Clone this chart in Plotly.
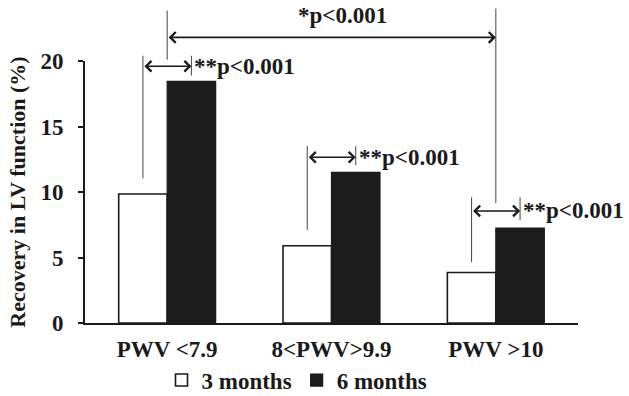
import plotly.graph_objects as go

categories = ["PWV <7.9", "8<PWV>9.9", "PWV >10"]
series_names = ["3 months", "6 months"]
three_months = [9.85, 5.9, 3.85]
six_months = [18.45, 11.5, 7.25]
y_ticks = [0, 5, 10, 15, 20]
p_labels = ["**p<0.001", "**p<0.001", "**p<0.001"]
overall_label = "*p<0.001"

Y_MAX = 20
FAMILY = "Liberation Serif, Times New Roman, serif"
INK = "#1a1a1a"
FONT = dict(family=FAMILY, size=23, color=INK, weight="bold")
TITLE_FONT = dict(family=FAMILY, size=22, color=INK, weight="bold")
BARGAP = 0.41
OFF = (1 - BARGAP) / 4  # offset of each bar centre from category centre

x = list(range(len(categories)))

fig = go.Figure()
fig.add_trace(go.Bar(x=x, y=three_months, name=series_names[0],
                     marker=dict(color="white", line=dict(color=INK, width=1.6))))
fig.add_trace(go.Bar(x=x, y=six_months, name=series_names[1],
                     marker=dict(color="#1c1c1c", line=dict(color=INK, width=1.2))))

def yp(v):
    return v / Y_MAX

shapes = []
annotations = []

def vline(xv, y0, y1, color="#444", width=1):
    shapes.append(dict(type="line", xref="x", yref="paper", x0=xv, x1=xv,
                       y0=yp(y0), y1=yp(y1), line=dict(color=color, width=width)))

def harrow(xa, xb, yv):
    annotations.append(dict(xref="x", yref="paper", axref="x", ayref="pixel",
                            x=xb, ax=xa, y=yp(yv), ay=0, text="", showarrow=True,
                            arrowside="end+start", arrowhead=4, startarrowhead=4,
                            arrowsize=1.3, startarrowsize=1.3, arrowwidth=1.6,
                            arrowcolor=INK, standoff=0, startstandoff=0))

# per-group brackets (white bar centre -> black bar centre)
group_levels = [(19.6, 11.05, 20.4, 18.9), (12.65, 7.1, 13.5, 12.05), (8.55, 4.65, 9.6, 7.85)]
for i, (ya, yl_bottom, ytop, yr_bottom) in enumerate(group_levels):
    xl = x[i] - OFF
    xr = x[i] + OFF
    vline(xl, yl_bottom, ytop)
    vline(xr, yr_bottom, ytop)
    harrow(xl, xr, ya)
    annotations.append(dict(xref="x", yref="paper", x=xr, y=yp(ya), xshift=1,
                            xanchor="left", yanchor="middle", text=p_labels[i],
                            showarrow=False, font=FONT))

# overall bracket: group 1 centre -> group 3 centre
vline(x[0], 20.1, 23.85)
vline(x[2], 9.15, 24.0)
harrow(x[0], x[2], 21.8)
annotations.append(dict(xref="paper", yref="paper", x=(342 - 85) / 493, y=yp(23.45),
                        xanchor="center", yanchor="middle", text=overall_label,
                        showarrow=False, font=FONT))

fig.update_layout(
    width=629, height=396,
    margin=dict(l=85, r=51, t=61, b=73, autoexpand=False),
    paper_bgcolor="white", plot_bgcolor="white",
    barmode="group", bargap=BARGAP, bargroupgap=0,
    font=FONT,
    showlegend=True,
    legend=dict(orientation="h", x=(297 - 85) / 493, xanchor="center",
                y=-0.218, yanchor="middle", font=FONT, itemwidth=30,
                traceorder="normal", bgcolor="rgba(0,0,0,0)"),
    shapes=shapes, annotations=annotations,
)
fig.update_xaxes(range=[-0.5, 2.5], tickvals=x, ticktext=categories,
                 showline=True, linewidth=2, linecolor=INK, ticks="",
                 showgrid=False, zeroline=False, tickfont=FONT, ticklabelstandoff=4)
fig.update_yaxes(range=[0, Y_MAX], tickvals=y_ticks, showline=True, linewidth=2,
                 linecolor=INK, ticks="outside", ticklen=5, tickwidth=2, tickcolor=INK,
                 showgrid=False, zeroline=False, tickfont=FONT, ticklabelstandoff=10,
                 title=dict(text="Recovery in LV function (%)", font=TITLE_FONT, standoff=9))

fig.write_html("out.html")
